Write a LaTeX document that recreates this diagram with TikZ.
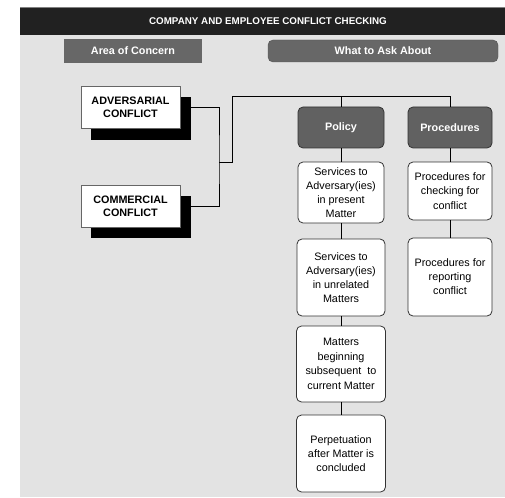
\documentclass[tikz,border=0pt]{standalone}
\usepackage{fontspec}
\setmainfont{Liberation Sans}
\definecolor{bg}{HTML}{E3E3E3}
\definecolor{bar}{HTML}{212121}
\definecolor{head}{HTML}{676767}
\definecolor{darkfill}{HTML}{616161}
\definecolor{edge}{HTML}{333333}
\begin{document}
\begin{tikzpicture}[x=1pt,y=-1pt,
  base/.style={inner sep=0pt, align=center, font=\fontsize{10.8}{14}\selectfont},
  header/.style={base, fill=head, text=white, font=\fontsize{10.8}{13}\selectfont\bfseries},
  area/.style={base, draw=gray!80!black, fill=white, line width=0.8pt,
    font=\fontsize{10.8}{13.3}\selectfont\bfseries},
  shade/.style={fill=black, inner sep=0pt},
  group/.style={base, fill=darkfill, draw=edge, line width=0.8pt, rounded corners=5pt,
    text=white, font=\fontsize{10.8}{13}\selectfont\bfseries},
  item/.style={base, fill=white, draw=edge, line width=0.8pt, rounded corners=5pt},
  link/.style={line width=0.9pt, black}
]
\useasboundingbox (0,0) rectangle (505,497);

% page background and title bar
\fill[bg] (20,7) rectangle (505,497);
\fill[bar] (20,7) rectangle (505,35.5);
\draw[gray, line width=0.8pt] (20,7.4) -- (505,7.4);
\node[base, text=white, font=\fontsize{9.8}{12}\selectfont\bfseries] (title) at (268,21)
  {COMPANY AND EMPLOYEE CONFLICT CHECKING};

% column headers
\node[header, minimum width=138pt, minimum height=24pt] (aoc) at (133,51) {Area of Concern};
\node[header, draw=head!80!black, rounded corners=5pt, minimum width=230pt, minimum height=22pt]
  (wta) at (383,51) {What to Ask About};

% areas of concern with drop shadows
\node[shade, minimum width=100pt, minimum height=43pt] (advsh) at (141,118.5) {};
\node[area, minimum width=99pt, minimum height=42pt] (adv) at (130.5,107) {ADVERSARIAL\\CONFLICT};
\node[shade, minimum width=100pt, minimum height=42pt] (comsh) at (141,217) {};
\node[area, minimum width=99pt, minimum height=42pt] (com) at (130.5,206) {COMMERCIAL\\CONFLICT};

% question groups
\node[group, minimum width=86pt, minimum height=41pt] (policy) at (341,127.5) {Policy};
\node[group, minimum width=84pt, minimum height=41pt] (proc) at (450,127.5) {Procedures};

% policy items
\node[item, minimum width=86pt, minimum height=61pt] (s1) at (341,192.5)
  {Services to\\Adversary(ies)\\in present\\Matter};
\node[item, minimum width=88pt, minimum height=77pt] (s2) at (341,277.5)
  {Services to\\Adversary(ies)\\in unrelated\\Matters};
\node[item, minimum width=89pt, minimum height=76pt, font=\fontsize{10.8}{14.5}\selectfont]
  (s3) at (341,364) {Matters\\beginning\\subsequent\ \ to\\current Matter};
\node[item, minimum width=89pt, minimum height=77pt] (s4) at (341,453.5)
  {Perpetuation\\after Matter is\\concluded};

% procedure items
\node[item, minimum width=84pt, minimum height=58pt, font=\fontsize{10.8}{14.5}\selectfont]
  (c1) at (450,191) {Procedures for\\checking for\\conflict};
\node[item, minimum width=84pt, minimum height=78pt] (c2) at (450,277)
  {Procedures for\\reporting\\conflict};

% connectors
\coordinate (jv) at (219,162);
\coordinate (jt) at (232,96);
\draw[link] (advsh.east |- adv.east) -| (jv) |- (comsh.east |- com.east);
\draw[link] (jv) -| (jt) -| (proc.north);
\draw[link] (policy.north) -- (policy.north |- jt);
\draw[link] (policy.south) -- (s1.north);
\draw[link] (s1.south) -- (s1.south |- s2.north);
\draw[link] (s1.south |- s2.south) -- (s1.south |- s3.north);
\draw[link] (s1.south |- s3.south) -- (s1.south |- s4.north);
\draw[link] (proc.south) -- (c1.north);
\draw[link] (c1.south) -- (c2.north);
\end{tikzpicture}
\end{document}
